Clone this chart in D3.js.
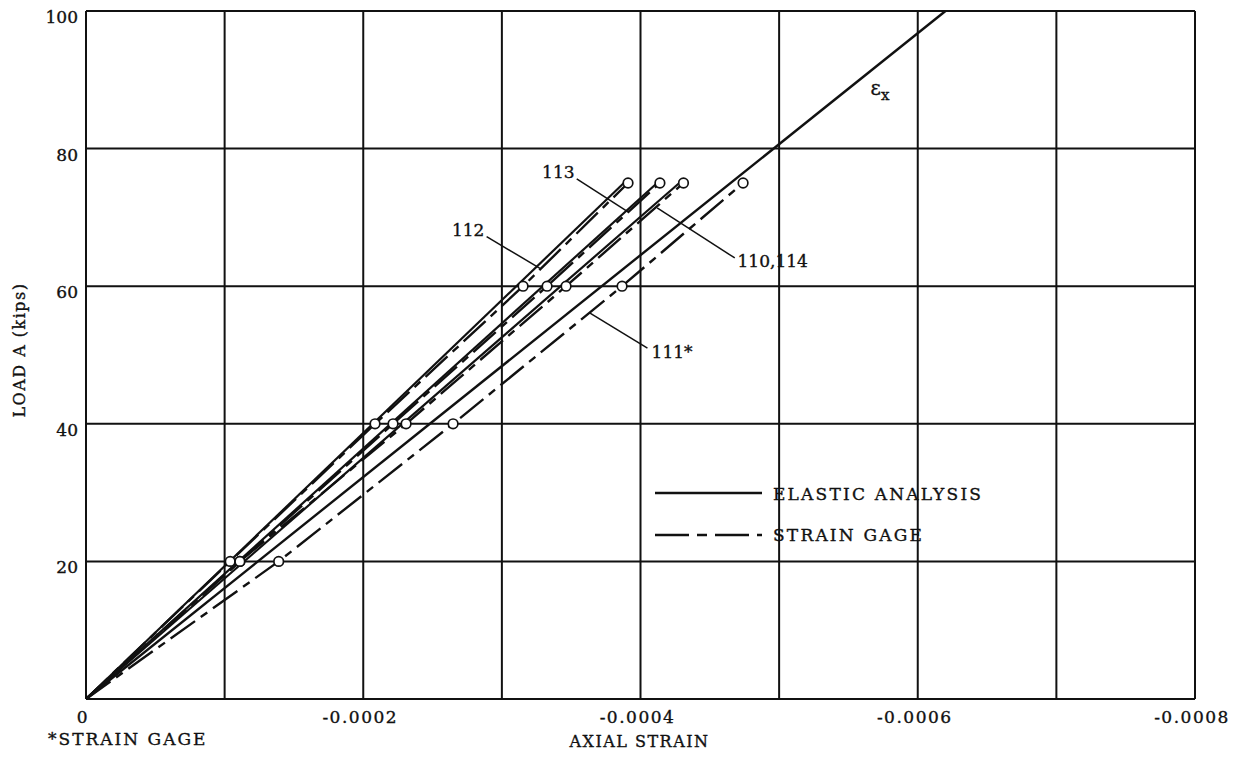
<!DOCTYPE html>
<html>
<head>
<meta charset="utf-8">
<script src="https://cdn.jsdelivr.net/npm/d3@7"></script>
<style>
  body { margin: 0; background: #fff; }
  text { font-family: "DejaVu Serif", serif; fill: #111; stroke: #111; stroke-width: 0.35px; }
</style>
</head>
<body>
<div id="chart"></div>
<script>
// loads (kips) at which the strain gages were read
const gageLoads = [0, 20, 40, 60, 75];
// strain gage readings (axial strain)
const gage112 = [0, -0.000104, -0.0002085, -0.0003153, -0.000391];
const gage113 = [0, -0.000111, -0.0002215, -0.0003326, -0.000414];
const gage110_114 = [0, -0.000111, -0.0002309, -0.0003463, -0.000431];
const gage111 = [0, -0.000139, -0.0002648, -0.0003867, -0.000474];

// elastic analysis, straight lines from the origin
const elasticLoads = [0, 75];
const elastic112 = [0, -0.000388];
const elastic113 = [0, -0.000412];
const elastic110_114 = [0, -0.000428];
const epsXLoads = [0, 100];
const epsX = [0, -0.00062];

const xTicks = [0, -0.0001, -0.0002, -0.0003, -0.0004, -0.0005, -0.0006, -0.0007, -0.0008];
const xTickLabels = ["0", "", "-0.0002", "", "-0.0004", "", "-0.0006", "", "-0.0008"];
const yTicks = [0, 20, 40, 60, 80, 100];
const yTickLabels = ["", "20", "40", "60", "80", "100"];

// callout labels, placed in data units [strain, load]
const callouts = [
  {text: "113", at: [-0.000329, 75.7], from: [-0.000354, 75.6], to: [-0.000391, 70.8]},
  {text: "112", at: [-0.000264, 67.3], from: [-0.000289, 67.2], to: [-0.0003275, 62.6]},
  {text: "110,114", at: [-0.00047, 62.8], from: [-0.000468, 64.1], to: [-0.000412, 71.4]},
  {text: "111*", at: [-0.000408, 49.6], from: [-0.000405, 51.0], to: [-0.0003636, 56.1]}
];

const W = 1242, H = 760;
const margin = {top: 11, right: 47, bottom: 61, left: 86};
const width = W - margin.left - margin.right,
      height = H - margin.top - margin.bottom;

const svg = d3.select("#chart").append("svg")
  .attr("width", W).attr("height", H);
const g = svg.append("g")
  .attr("transform", `translate(${margin.left},${margin.top})`);

const x = d3.scaleLinear().domain([0, -0.0008]).range([0, width]);
const y = d3.scaleLinear().domain([0, 100]).range([height, 0]);

// grid
g.selectAll(".vgrid").data(xTicks).enter().append("line")
  .attr("x1", d => x(d)).attr("x2", d => x(d))
  .attr("y1", 0).attr("y2", height)
  .attr("stroke", "#111").attr("stroke-width", 2);
g.selectAll(".hgrid").data(yTicks).enter().append("line")
  .attr("y1", d => y(d)).attr("y2", d => y(d))
  .attr("x1", 0).attr("x2", width)
  .attr("stroke", "#111").attr("stroke-width", 2);

// tick labels
g.selectAll(".xlab").data(xTicks).enter().append("text")
  .attr("x", d => x(d) - 3).attr("y", height + 24)
  .attr("text-anchor", "middle")
  .style("font-size", "17px").style("letter-spacing", "1.5px")
  .text((d, i) => xTickLabels[i]);
g.selectAll(".ylab").data(yTicks).enter().append("text")
  .attr("x", -8).attr("y", d => y(d) + 12)
  .attr("text-anchor", "end")
  .style("font-size", "17px")
  .text((d, i) => yTickLabels[i]);

// axis titles
svg.append("text")
  .attr("x", margin.left + width * 0.5 - 1).attr("y", 747)
  .attr("text-anchor", "middle")
  .style("font-size", "16px").style("letter-spacing", "1.5px")
  .text("AXIAL STRAIN");
svg.append("text")
  .attr("x", 48).attr("y", 745)
  .style("font-size", "17px").style("letter-spacing", "2px")
  .text("*STRAIN GAGE");
svg.append("text")
  .attr("transform", "translate(25,350) rotate(-90)")
  .attr("text-anchor", "middle")
  .style("font-size", "16px").style("letter-spacing", "1.5px")
  .text("LOAD A (kips)");

const line = d3.line().x(d => x(d[0])).y(d => y(d[1]));
const dashDot = "30,7,8,7";

// elastic analysis lines
[elastic112, elastic113, elastic110_114].forEach(s => {
  g.append("path")
    .attr("d", line(s.map((v, i) => [v, elasticLoads[i]])))
    .attr("fill", "none").attr("stroke", "#111").attr("stroke-width", 2.2);
});
g.append("path")
  .attr("d", line(epsX.map((v, i) => [v, epsXLoads[i]])))
  .attr("fill", "none").attr("stroke", "#111").attr("stroke-width", 2.4);

// strain gage lines
const gages = [gage112, gage113, gage110_114, gage111];
gages.forEach(s => {
  const pts = s.map((v, i) => [v, gageLoads[i]]);
  g.append("path")
    .attr("d", line(pts))
    .attr("fill", "none").attr("stroke", "#111").attr("stroke-width", 2.4)
    .attr("stroke-dasharray", dashDot);
});
gages.forEach(s => {
  const pts = s.map((v, i) => [v, gageLoads[i]]).slice(1);
  g.selectAll(null).data(pts).enter().append("circle")
    .attr("cx", d => x(d[0])).attr("cy", d => y(d[1]))
    .attr("r", 4.8)
    .attr("fill", "#fff").attr("stroke", "#111").attr("stroke-width", 1.7);
});

// callouts
callouts.forEach(c => {
  g.append("line")
    .attr("x1", x(c.from[0])).attr("y1", y(c.from[1]))
    .attr("x2", x(c.to[0])).attr("y2", y(c.to[1]))
    .attr("stroke", "#111").attr("stroke-width", 1.5);
  g.append("text")
    .attr("x", x(c.at[0])).attr("y", y(c.at[1]))
    .style("font-size", "17px")
    .text(c.text);
});

// epsilon x label
const epsLabel = g.append("text")
  .attr("x", x(-0.000566)).attr("y", y(87.8))
  .style("font-size", "20px");
epsLabel.append("tspan").text("\u03B5");
epsLabel.append("tspan").attr("dy", 5).style("font-size", "15px").text("x");

// legend
const legend = svg.append("g").attr("transform", "translate(655,493)");
legend.append("line").attr("x1", 0).attr("x2", 107).attr("y1", 0).attr("y2", 0)
  .attr("stroke", "#111").attr("stroke-width", 2.4);
legend.append("text").attr("x", 118).attr("y", 7)
  .style("font-size", "17px").style("letter-spacing", "2.2px")
  .text("ELASTIC ANALYSIS");
legend.append("line").attr("x1", 0).attr("x2", 107).attr("y1", 42).attr("y2", 42)
  .attr("stroke", "#111").attr("stroke-width", 2.4)
  .attr("stroke-dasharray", "34,8,10,8");
legend.append("text").attr("x", 118).attr("y", 48)
  .style("font-size", "17px").style("letter-spacing", "2.2px")
  .text("STRAIN GAGE");
</script>
</body>
</html>
